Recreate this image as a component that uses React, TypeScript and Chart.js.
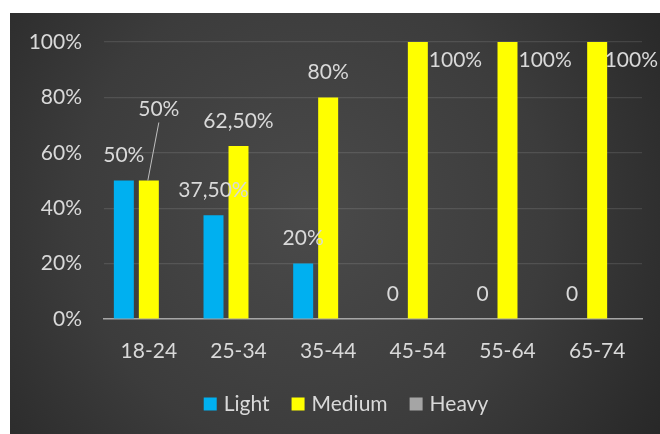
import { useEffect, useRef } from "react";
import { Chart, registerables } from "chart.js";

Chart.register(...registerables);

// Share of drinkers per age group
const ageGroups = ["18-24", "25-34", "35-44", "45-54", "55-64", "65-74"];
const lightShare = [0.5, 0.375, 0.2, 0, 0, 0];
const mediumShare = [0.5, 0.625, 0.8, 1, 1, 1];
const heavyShare = [0, 0, 0, 0, 0, 0];
const yTickValues = [0, 0.2, 0.4, 0.6, 0.8, 1];

const seriesNames = ["Light", "Medium", "Heavy"];
const seriesColors = ["#00B0F0", "#FFFF00", "#A5A5A5"];
const seriesLabelled = [true, true, false];

const FONT_FAMILY = "Lato, 'Open Sans', sans-serif";
const TEXT_COLOR = "#d9d9d9";
const FONT_SIZE = 21;

// Plot frame inside the canvas
const PLOT_TOP = 29;
const PLOT_BOTTOM = 306;

// The Medium label of the first group is pulled up with a leader line
const movedLabel = { dataset: 1, index: 0, dx: 10, dy: -46 };

function formatShare(v: number): string {
  if (v === 0) return "0";
  const pct = Math.round(v * 10000) / 100;
  if (Number.isInteger(pct)) return `${pct}%`;
  return `${pct.toFixed(2).replace(".", ",")}%`;
}

const backgroundPlugin = {
  id: "darkBackground",
  beforeDraw(chart: Chart) {
    const { ctx, width, height } = chart;
    ctx.save();
    const g = ctx.createRadialGradient(300, 200, 0, 300, 200, 430);
    g.addColorStop(0, "#4a4a4a");
    g.addColorStop(0.55, "#3c3c3c");
    g.addColorStop(1, "#262626");
    ctx.fillStyle = g;
    ctx.fillRect(0, 0, width, height);
    ctx.restore();
  },
};

// Pin the plot frame vertically so the axes sit where the layout wants them
const frameLock = {
  id: "frameLock",
  afterLayout(chart: Chart) {
    const area = chart.chartArea;
    area.top = PLOT_TOP;
    area.bottom = PLOT_BOTTOM;
    area.height = PLOT_BOTTOM - PLOT_TOP;
    const y: any = chart.scales.y;
    y.top = PLOT_TOP;
    y.bottom = PLOT_BOTTOM;
    y.height = PLOT_BOTTOM - PLOT_TOP;
    y.configure();
    const x: any = chart.scales.x;
    const h = x.height;
    x.top = PLOT_BOTTOM;
    x.bottom = PLOT_BOTTOM + h;
  },
};

const valueLabelPlugin = {
  id: "valueLabels",
  afterDatasetsDraw(chart: Chart) {
    const { ctx, width, chartArea } = chart;
    ctx.save();
    ctx.font = `${FONT_SIZE}px ${FONT_FAMILY}`;
    ctx.fillStyle = TEXT_COLOR;
    ctx.strokeStyle = "#bfbfbf";
    ctx.lineWidth = 1;
    ctx.textBaseline = "middle";
    chart.data.datasets.forEach((ds: any, di: number) => {
      if (!seriesLabelled[di]) return;
      const meta = chart.getDatasetMeta(di);
      meta.data.forEach((bar: any, i: number) => {
        const v = ds.data[i] as number;
        const text = formatShare(v);
        const tw = ctx.measureText(text).width;
        let x = bar.x;
        let y = bar.y - 25;
        let align: CanvasTextAlign = "center";
        if (bar.y <= chartArea.top + 1) {
          // no room above a full bar: put the label beside it
          align = "left";
          x = Math.min(bar.x + bar.width / 2 + 1, width - tw - 2);
          y = bar.y + 18;
        }
        if (movedLabel.dataset === di && movedLabel.index === i) {
          x += movedLabel.dx;
          y += movedLabel.dy;
          ctx.beginPath();
          ctx.moveTo(x, y + 13);
          ctx.lineTo(bar.x - 1, bar.y);
          ctx.stroke();
        }
        ctx.textAlign = align;
        ctx.fillText(text, x, y);
      });
    });
    ctx.restore();
  },
};

const legendPlugin = {
  id: "bottomLegend",
  afterDraw(chart: Chart) {
    const { ctx } = chart;
    ctx.save();
    ctx.font = `${FONT_SIZE}px ${FONT_FAMILY}`;
    ctx.textBaseline = "middle";
    ctx.textAlign = "left";
    const box = 13;
    const gap = 7;
    const spacing = 22;
    const widths = seriesNames.map((n) => box + gap + ctx.measureText(n).width);
    const total = widths.reduce((a, b) => a + b, 0) + spacing * (widths.length - 1);
    let x = 336 - total / 2;
    const cy = 391;
    seriesNames.forEach((name, i) => {
      ctx.fillStyle = seriesColors[i];
      ctx.fillRect(x, cy - box / 2, box, box);
      ctx.fillStyle = TEXT_COLOR;
      ctx.fillText(name, x + box + gap, cy);
      x += widths[i] + spacing;
    });
    ctx.restore();
  },
};

export default function App() {
  const canvasRef = useRef<HTMLCanvasElement>(null);

  useEffect(() => {
    const canvas = canvasRef.current;
    if (!canvas) return;
    const values = [lightShare, mediumShare, heavyShare];
    const chart = new Chart(canvas, {
      type: "bar",
      data: {
        labels: ageGroups,
        datasets: seriesNames.map((name, i) => ({
          label: name,
          data: values[i],
          backgroundColor: seriesColors[i],
          borderWidth: 0,
          categoryPercentage: 0.836,
          barPercentage: 0.8,
        })),
      },
      options: {
        animation: false,
        responsive: false,
        devicePixelRatio: 1,
        layout: { padding: { top: PLOT_TOP, right: 18, left: 0, bottom: 65 } },
        scales: {
          x: {
            grid: { display: false, drawTicks: false },
            border: { color: "#a6a6a6", width: 1.5 },
            ticks: {
              color: TEXT_COLOR,
              font: { family: FONT_FAMILY, size: FONT_SIZE },
              padding: 20,
            },
            afterFit(scale: any) {
              scale.height = 50;
            },
          },
          y: {
            min: 0,
            max: 1,
            afterBuildTicks(scale: any) {
              scale.ticks = yTickValues.map((value) => ({ value }));
            },
            grid: { color: "rgba(255,255,255,0.11)", drawTicks: false, lineWidth: 1.2 },
            border: { display: false },
            ticks: {
              color: TEXT_COLOR,
              font: { family: FONT_FAMILY, size: FONT_SIZE },
              padding: 22,
              callback: (v: any) => `${Math.round(Number(v) * 100)}%`,
            },
            afterFit(scale: any) {
              scale.width = 94;
            },
          },
        },
        plugins: {
          legend: { display: false },
          tooltip: { enabled: false },
        },
      },
      plugins: [backgroundPlugin, frameLock, valueLabelPlugin, legendPlugin],
    });
    return () => chart.destroy();
  }, []);

  return (
    <div style={{ position: "absolute", left: 10, top: 13, width: 650, height: 421 }}>
      <canvas ref={canvasRef} width={650} height={421} style={{ display: "block" }} />
    </div>
  );
}
